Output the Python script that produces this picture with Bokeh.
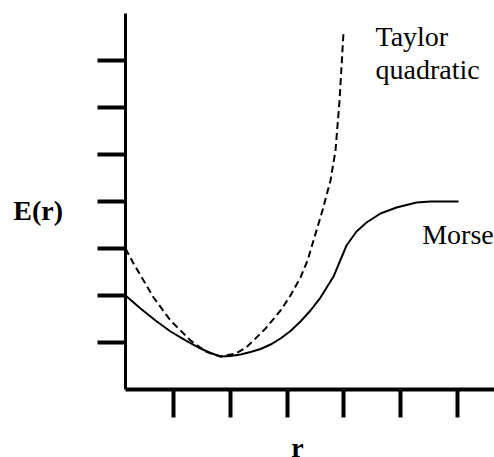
from bokeh.plotting import figure
from bokeh.models import Range1d, FixedTicker, Label
from bokeh.embed import file_html
from bokeh.resources import INLINE

# Data, r and E in tick units
x_ticks = [1, 2, 3, 4, 5, 6]
y_ticks = [1, 2, 3, 4, 5, 6, 7]

morse_r = [0.156, 0.420, 0.684, 0.948, 1.212, 1.476, 1.652, 1.828, 2.004, 2.180,
           2.356, 2.532, 2.708, 2.884, 3.059, 3.235, 3.411, 3.587, 3.816, 4.045,
           4.133, 4.221, 4.397, 4.643, 4.925, 5.277, 5.523, 6.016]
morse_E = [2.000, 1.723, 1.468, 1.234, 1.043, 0.872, 0.777, 0.702, 0.713, 0.745,
           0.798, 0.862, 0.957, 1.085, 1.245, 1.447, 1.681, 1.957, 2.404, 3.064,
           3.213, 3.362, 3.553, 3.745, 3.872, 3.979, 4.000, 4.000]

taylor_r = [0.156, 0.297, 0.473, 0.649, 0.948, 1.300, 1.564, 1.828, 2.092, 2.268,
            2.408, 2.620, 2.884, 3.059, 3.235, 3.359, 3.464, 3.622, 3.763, 3.851,
            3.922, 3.992]
taylor_E = [3.000, 2.681, 2.319, 1.957, 1.468, 1.043, 0.809, 0.702, 0.766, 0.883,
            1.043, 1.298, 1.681, 2.000, 2.383, 2.745, 3.170, 3.809, 4.447, 5.085,
            6.149, 7.596]

FONT = "Liberation Serif"

p = figure(width=494, height=457, output_backend="svg", toolbar_location=None,
           x_range=Range1d(-2.044, 6.649), y_range=Range1d(-1.447, 8.277),
           min_border=0)
p.outline_line_color = None
p.xgrid.visible = False
p.ygrid.visible = False
p.background_fill_color = "white"
p.border_fill_color = "white"

xa = p.xaxis[0]
xa.fixed_location = 0
xa.bounds = (0.156, 6.649)
xa.ticker = FixedTicker(ticks=x_ticks)
xa.major_label_overrides = {t: "" for t in x_ticks}
xa.axis_line_width = 4
xa.axis_line_color = "black"
xa.major_tick_line_width = 4
xa.major_tick_line_color = "black"
xa.major_tick_out = 28
xa.major_tick_in = 0
xa.minor_tick_line_color = None

ya = p.yaxis[0]
ya.fixed_location = 0.156
ya.bounds = (0, 8)
ya.ticker = FixedTicker(ticks=y_ticks)
ya.major_label_overrides = {t: "" for t in y_ticks}
ya.axis_line_width = 3
ya.axis_line_color = "black"
ya.major_tick_line_width = 4
ya.major_tick_line_color = "black"
ya.major_tick_out = 28
ya.major_tick_in = 0
ya.minor_tick_line_color = None

p.line(taylor_r, taylor_E, line_color="black", line_width=2, line_dash="7 4")
p.line(morse_r, morse_E, line_color="black", line_width=2)

def lab(x, y, t, bold=False):
    p.add_layout(Label(x=x, y=y, text=t, text_font=FONT, text_font_size="28px",
                       text_font_style="bold" if bold else "normal",
                       text_color="black", text_baseline="alphabetic", text_align="left"))

lab(4.555, 7.509, "Taylor")
lab(4.555, 6.807, "quadratic")
lab(5.377, 3.290, "Morse")
lab(-1.820, 3.807, "E(r)", bold=True)
lab(3.072, -1.234, "r", bold=True)

open("out.html", "w").write(file_html(p, INLINE))
